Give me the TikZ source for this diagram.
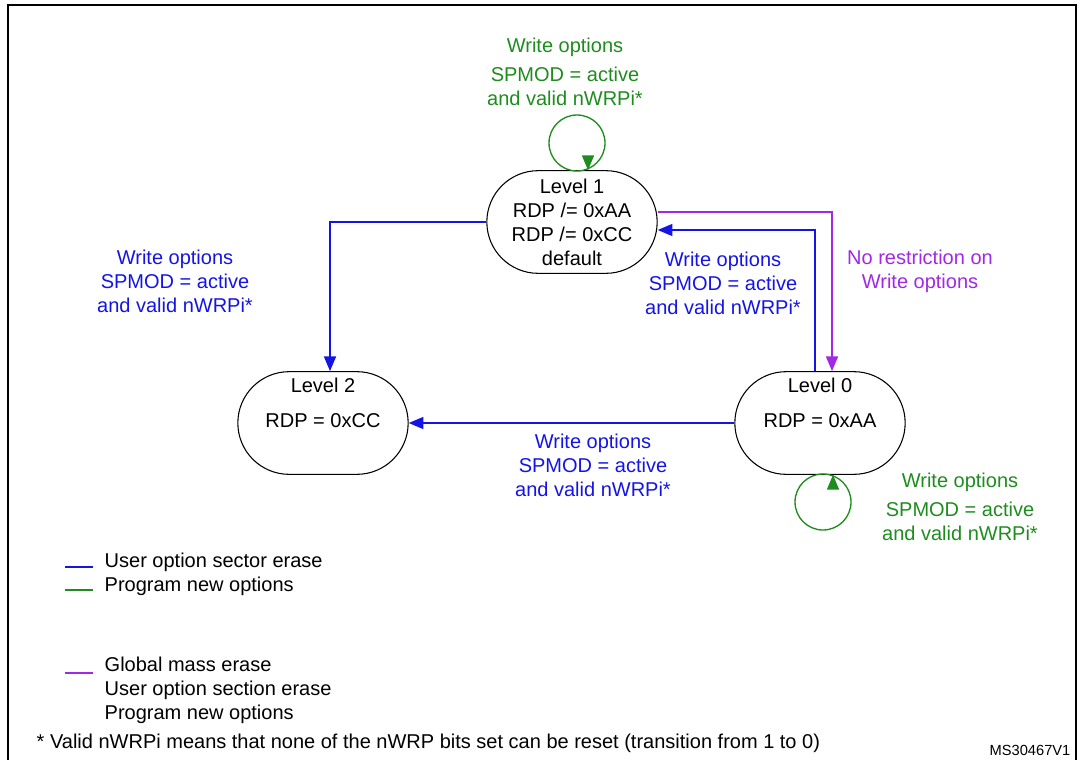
\documentclass[tikz,border=0pt]{standalone}
\usepackage{fontspec}
\setmainfont{Liberation Sans}
\usetikzlibrary{arrows.meta,shapes.misc}
\definecolor{cb}{RGB}{20,20,230}
\definecolor{cg}{RGB}{30,140,30}
\definecolor{cp}{RGB}{160,40,230}
\begin{document}
\begin{tikzpicture}[x=0.75pt,y=-0.75pt,
  st/.style={draw,thick,rounded rectangle,minimum width=129.75pt,minimum height=77pt,align=center,inner sep=1pt,font=\fontsize{15}{18}\selectfont},
  lb/.style={align=center,font=\fontsize{15}{18}\selectfont},
  lt/.style={anchor=west,font=\fontsize{15}{18}\selectfont},
  ar/.style={line width=1pt,-{Triangle[length=11pt,width=9pt]}}]
\useasboundingbox (0,0) rectangle (1085,760);
\draw[line width=1.5pt] (8,780) -- (8,5) -- (1076,5) -- (1076,780);
\node[st] (l1) at (572,222) {Level 1\\RDP /= 0xAA\\RDP /= 0xCC\\default};
\node[st] (l2) at (323,423) {Level 2\\[8pt]RDP = 0xCC\\[12pt]};
\node[st] (l0) at (820,423) {Level 0\\[8pt]RDP = 0xAA\\[12pt]};
% loops
\draw[cg,line width=1pt] (577,143) circle (28);
\coordinate (t1) at (588,161);
\draw[cg,ar] (t1) -- (l1.north -| t1);
\draw[cg,line width=1pt] (823,502) circle (28);
\coordinate (t0) at (833,483);
\draw[cg,ar] (t0) -- (l0.south -| t0);
% connectors
\coordinate (a) at (330,222);
\draw[cb,ar] (l1.west) -- (a) -- (a |- l2.north);
\coordinate (b) at (815,230);
\draw[cb,ar] (b |- l0.north) -- (b) -- (l1.east |- b);
\coordinate (c) at (832,212);
\draw[cp,ar] (l1.east |- c) -- (c) -- (c |- l0.north);
\draw[cb,ar] (l0.west) -- (l2.east);
% labels
\node[lb,cg] (g1) at (565,72) {Write options\\[4pt]SPMOD = active\\and valid nWRPi*};
\node[lb,cb] (b1) at (175,281) {Write options\\SPMOD = active\\and valid nWRPi*};
\node[lb,cb] (b2) at (723,283) {Write options\\SPMOD = active\\and valid nWRPi*};
\node[lb,cp] (p1) at (920,271) {No restriction on\\Write options};
\node[lb,cb] (b3) at (593,465) {Write options\\SPMOD = active\\and valid nWRPi*};
\node[lb,cg] (g0) at (960,507) {Write options\\[4pt]SPMOD = active\\and valid nWRPi*};
% legend
\draw[cb,line width=1pt] (65,567) -- (93,567);
\node[lt] (t1l) at (100,562) {User option sector erase};
\draw[cg,line width=1pt] (65,590) -- (93,590);
\node[lt] (t2l) at (100,586) {Program new options};
\draw[cp,line width=1pt] (65,673) -- (93,673);
\node[lt,align=left,anchor=north west] (t3l) at (100,652) {Global mass erase\\User option section erase\\Program new options};
\node[lt] (fn) at (32,743) {* Valid nWRPi means that none of the nWRP bits set can be reset (transition from 1 to 0)};
\node[font=\fontsize{11}{13}\selectfont] (ms) at (1030,750) {MS30467V1};
\end{tikzpicture}
\end{document}
